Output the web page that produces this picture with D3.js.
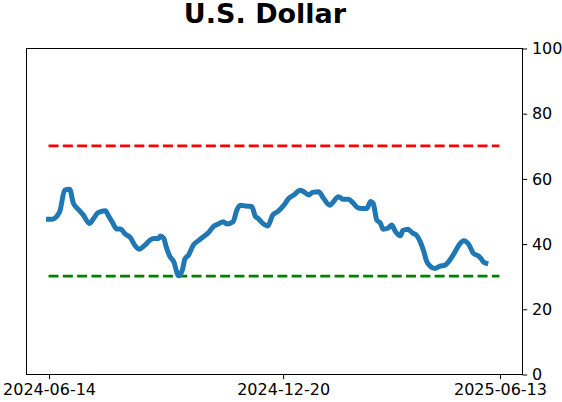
<!DOCTYPE html>
<html>
<head>
<meta charset="utf-8">
<script src="https://cdn.jsdelivr.net/npm/d3@7"></script>
<style>
  html, body { margin: 0; padding: 0; background: #fff; }
  svg { display: block; font-family: "DejaVu Sans", sans-serif; }
</style>
</head>
<body>
<svg id="chart" width="562" height="402"></svg>
<script>
const TITLE = 'U.S. Dollar';

const dates = [
  '2024-06-14', '2024-06-17', '2024-06-23', '2024-06-27', '2024-07-01', '2024-07-04', '2024-07-08',
  '2024-07-12', '2024-07-17', '2024-07-20', '2024-07-24', '2024-07-30', '2024-08-01', '2024-08-05',
  '2024-08-08', '2024-08-11', '2024-08-15', '2024-08-19', '2024-08-23', '2024-08-26', '2024-08-31',
  '2024-09-04', '2024-09-07', '2024-09-11', '2024-09-12', '2024-09-15', '2024-09-17', '2024-09-20',
  '2024-09-23', '2024-09-27', '2024-09-30', '2024-10-02', '2024-10-05', '2024-10-09', '2024-10-13',
  '2024-10-17', '2024-10-21', '2024-10-25', '2024-10-29', '2024-11-02', '2024-11-05', '2024-11-10',
  '2024-11-13', '2024-11-16', '2024-11-20', '2024-11-25', '2024-11-28', '2024-11-30', '2024-12-04',
  '2024-12-08', '2024-12-12', '2024-12-16', '2024-12-21', '2024-12-25', '2024-12-29', '2025-01-03',
  '2025-01-06', '2025-01-10', '2025-01-13', '2025-01-18', '2025-01-22', '2025-01-27', '2025-01-29',
  '2025-02-03', '2025-02-07', '2025-02-11', '2025-02-15', '2025-02-19', '2025-02-22', '2025-02-26',
  '2025-03-01', '2025-03-03', '2025-03-06', '2025-03-09', '2025-03-11', '2025-03-15', '2025-03-18',
  '2025-03-21', '2025-03-25', '2025-03-27', '2025-03-31', '2025-04-04', '2025-04-07', '2025-04-10',
  '2025-04-13', '2025-04-15', '2025-04-18', '2025-04-22', '2025-04-26', '2025-04-30', '2025-05-04',
  '2025-05-08', '2025-05-12', '2025-05-15', '2025-05-19', '2025-05-23', '2025-05-27', '2025-05-29',
  '2025-05-31', '2025-06-02'
];

const values = [
  47.5, 47.5, 49.8, 56.4, 56.7, 52.4, 50.5,
  48.8, 46.2, 47.5, 49.5, 50.1, 48.8, 46.2,
  44.5, 44.5, 42.9, 41.8, 39.3, 38.3, 39.6,
  41.1, 41.6, 41.6, 42.3, 41.6, 39.0, 36.0,
  34.5, 30.1, 31.9, 35.2, 36.5, 39.6, 40.9,
  42.1, 43.3, 45.2, 46.0, 46.7, 46.0, 46.7,
  50.3, 51.8, 51.5, 51.4, 48.3, 47.8, 46.2,
  45.4, 48.8, 49.8, 51.8, 53.9, 54.9, 56.4,
  55.9, 54.9, 55.7, 55.9, 53.9, 51.8, 52.4,
  54.4, 53.6, 53.6, 52.4, 50.9, 50.8, 50.8,
  52.9, 52.4, 47.2, 46.2, 44.4, 44.7, 45.7,
  43.7, 42.4, 44.0, 44.4, 43.2, 42.6, 40.6,
  37.5, 34.8, 33.1, 32.4, 33.1, 33.4, 35.0,
  37.4, 39.9, 40.9, 39.9, 37.0, 36.2, 35.5,
  34.4, 34.0
];

const levels = [
  { value: 70, color: 'red' },
  { value: 30, color: 'green' }
];
const levelSpan = ['2024-06-14', '2025-06-13'];

const xTicks = ['2024-06-14', '2024-12-20', '2025-06-13'];
const yTicks = [0, 20, 40, 60, 80, 100];

const W = 562, H = 402;
const margin = { top: 48, right: 40, bottom: 28, left: 26 };
const parse = d3.utcParse('%Y-%m-%d');

const svg = d3.select('#chart');

// x range = level span padded by 5% on each side
const spanStart = parse(levelSpan[0]), spanEnd = parse(levelSpan[1]);
const pad = (spanEnd - spanStart) * 0.05;
const x = d3.scaleUtc()
  .domain([new Date(+spanStart - pad), new Date(+spanEnd + pad)])
  .range([margin.left, W - margin.right]);
const y = d3.scaleLinear()
  .domain([0, 100])
  .range([H - margin.bottom, margin.top]);

const series = dates.map((d, i) => ({ date: parse(d), value: values[i] }));

// threshold lines
svg.append('g').selectAll('line')
  .data(levels)
  .join('line')
  .attr('x1', x(spanStart))
  .attr('x2', x(spanEnd))
  .attr('y1', d => y(d.value))
  .attr('y2', d => y(d.value))
  .attr('stroke', d => d.color)
  .attr('stroke-width', 2.7)
  .attr('stroke-dasharray', '10,4.3');

// main line
const line = d3.line()
  .x(d => x(d.date))
  .y(d => y(d.value))
  .curve(d3.curveMonotoneX);

svg.append('path')
  .datum(series)
  .attr('d', line)
  .attr('fill', 'none')
  .attr('stroke', '#1f77b4')
  .attr('stroke-width', 5)
  .attr('stroke-linejoin', 'round')
  .attr('stroke-linecap', 'square');

// frame
svg.append('rect')
  .attr('x', margin.left + 0.5)
  .attr('y', margin.top + 0.5)
  .attr('width', W - margin.right - margin.left)
  .attr('height', H - margin.bottom - margin.top)
  .attr('fill', 'none')
  .attr('stroke', '#000')
  .attr('stroke-width', 1);

// axes
const styleTicks = g => g.selectAll('text')
  .attr('font-size', 16)
  .attr('fill', '#000')
  .attr('font-family', '"DejaVu Sans", sans-serif');

svg.append('g')
  .attr('transform', `translate(0.5,${H - margin.bottom + 0.5})`)
  .call(d3.axisBottom(x)
    .tickValues(xTicks.map(parse))
    .tickFormat(d3.utcFormat('%Y-%m-%d'))
    .tickSize(4.7)
    .tickPadding(4.7))
  .call(g => g.select('.domain').remove())
  .call(styleTicks);

svg.append('g')
  .attr('transform', `translate(${W - margin.right + 0.5},0.5)`)
  .call(d3.axisRight(y)
    .tickValues(yTicks)
    .tickSize(4.7)
    .tickPadding(4.7))
  .call(g => g.select('.domain').remove())
  .call(styleTicks);

// title
svg.append('text')
  .attr('x', 265)
  .attr('y', 23)
  .attr('text-anchor', 'middle')
  .attr('font-size', 27)
  .attr('font-weight', 'bold')
  .text(TITLE);
</script>
</body>
</html>
